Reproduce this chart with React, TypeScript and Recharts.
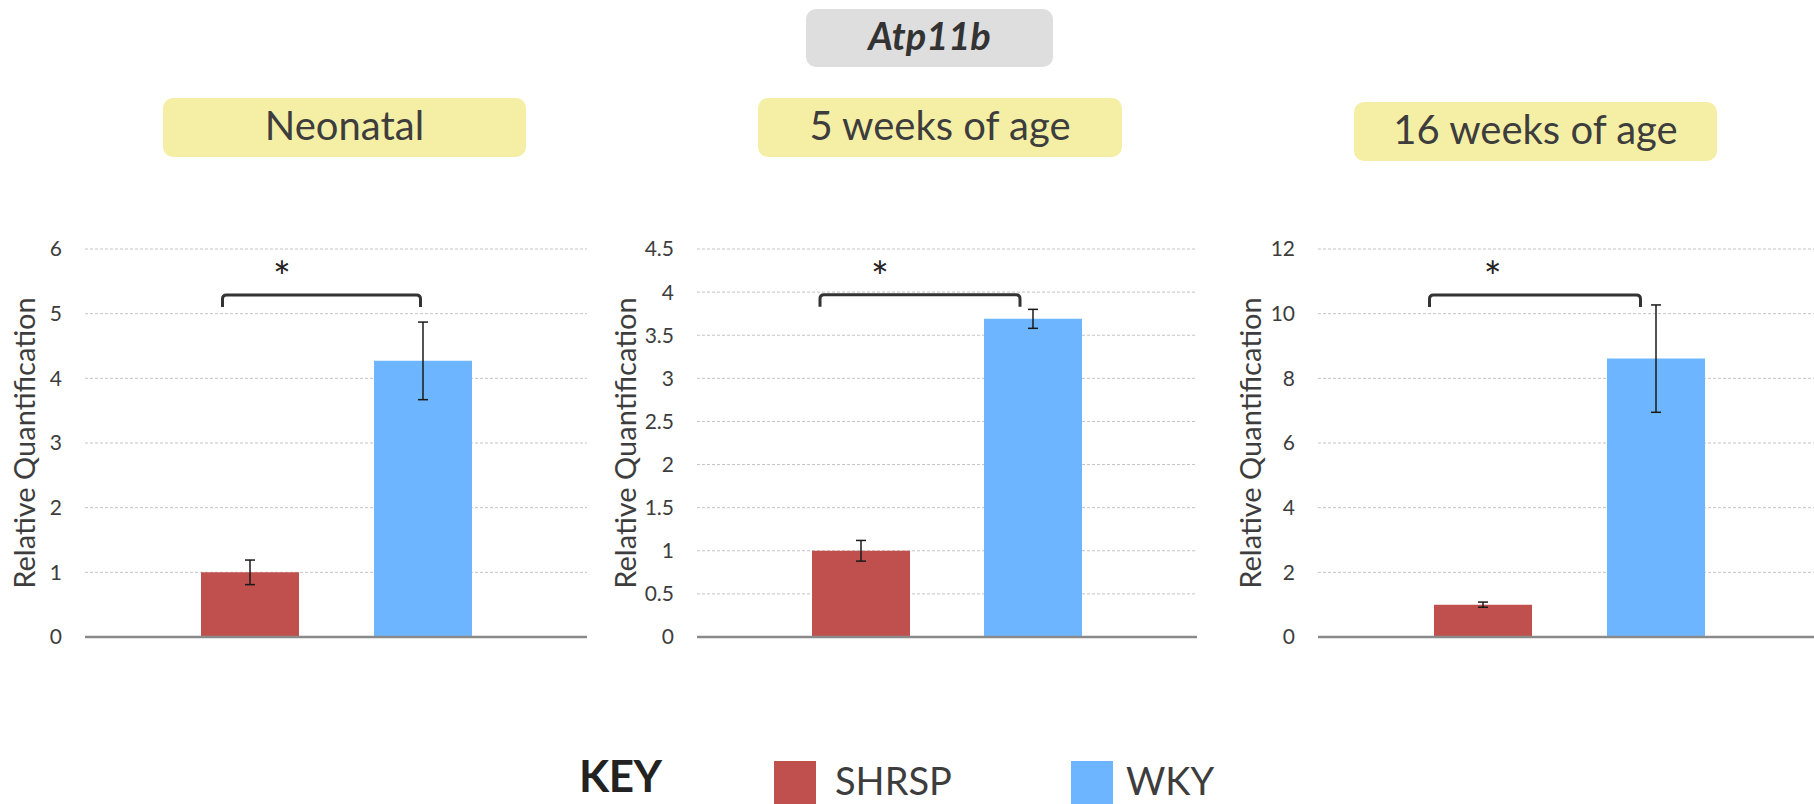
import React from "react";
import { BarChart, Bar, Cell, XAxis, YAxis, CartesianGrid, ErrorBar, ReferenceLine } from "recharts";

const groups = ["SHRSP", "WKY"];
const groupColors = ["#c0504d", "#6db6ff"];

const neonatalValues = [1.0, 4.27];
const neonatalErrors = [0.19, 0.6];
const week5Values = [1.0, 3.69];
const week5Errors = [0.12, 0.11];
const week16Values = [1.0, 8.61];
const week16Errors = [0.08, 1.66];

const neonatalTicks = [0, 1, 2, 3, 4, 5, 6];
const week5Ticks = [0, 0.5, 1, 1.5, 2, 2.5, 3, 3.5, 4, 4.5];
const week16Ticks = [0, 2, 4, 6, 8, 10, 12];

const panelTitles = ["Neonatal", "5 weeks of age", "16 weeks of age"];
// significance bracket height per panel, in axis units
const bracketLevels = [5.29, 3.97, 10.58];

const gene = "Atp11b";
const yTitle = "Relative Quantification";
const font = "Lato, 'Open Sans', sans-serif";
const ink = "#3d3d3d";

type Panel = {
  values: number[];
  errors: number[];
  ticks: number[];
  bracket: number;
  left: number;
  width: number;
  axisWidth: number;
  titleOffset: number;
  hook: [number, number];
};

const panels: Panel[] = [
  { values: neonatalValues, errors: neonatalErrors, ticks: neonatalTicks, bracket: bracketLevels[0],
    left: 0, width: 600, axisWidth: 85, titleOffset: 25, hook: [-27, -2] },
  { values: week5Values, errors: week5Errors, ticks: week5Ticks, bracket: bracketLevels[1],
    left: 600, width: 610, axisWidth: 97, titleOffset: 26, hook: [-41, -13] },
  { values: week16Values, errors: week16Errors, ticks: week16Ticks, bracket: bracketLevels[2],
    left: 1215, width: 620, axisWidth: 103, titleOffset: 36, hook: [-53, -15] },
];

// bracket + asterisk between the two bars
function Bracket(props: any) {
  const { x1, x2, y1, hook } = props;
  const a = x1 + hook[0];
  const b = x2 + hook[1];
  const drop = 12;
  const r = 4;
  const d = `M${a},${y1 + drop} V${y1 + r} Q${a},${y1} ${a + r},${y1} H${b - r} Q${b},${y1} ${b},${y1 + r} V${y1 + drop}`;
  return (
    <g>
      <path d={d} fill="none" stroke="#333" strokeWidth={3} />
      <text x={a + (b - a) * 0.3} y={y1 - 3} textAnchor="middle" fontSize={42} fill="#222" fontFamily={font}>
        *
      </text>
    </g>
  );
}

function PanelChart({ p }: { p: Panel }) {
  const data = groups.map((g, i) => ({ group: g, value: p.values[i], err: p.errors[i] }));
  const top = p.ticks[p.ticks.length - 1];
  const right = Math.max(p.width - p.axisWidth - 502, 13);
  return (
    <div style={{ position: "absolute", left: p.left, top: 200 }}>
      <BarChart width={p.width} height={460} data={data} margin={{ top: 49, right, bottom: 22, left: 0 }}>
        <CartesianGrid vertical={false} stroke="#c4c4c4" strokeDasharray="3 2" />
        <XAxis
          dataKey="group"
          tick={false}
          tickLine={false}
          height={1}
          padding={{ left: 78, right: 78 }}
          axisLine={{ stroke: "#8a8a8a", strokeWidth: 2.5 }}
        />
        <YAxis
          width={p.axisWidth}
          domain={[0, top]}
          ticks={p.ticks}
          interval={0}
          axisLine={false}
          tickLine={false}
          tickSize={0}
          tickMargin={23}
          tick={{ fontSize: 21, fill: ink, fontFamily: font }}
          label={{
            value: yTitle,
            angle: -90,
            position: "insideLeft",
            offset: p.titleOffset,
            style: { textAnchor: "middle", fontSize: 29, fill: ink, fontFamily: font },
          }}
        />
        <Bar dataKey="value" barSize={98} isAnimationActive={false}>
          {data.map((d, i) => (
            <Cell key={d.group} fill={groupColors[i]} />
          ))}
          <ErrorBar dataKey="err" width={5} stroke="#1a1a1a" strokeWidth={1.5} direction="y" isAnimationActive={false} />
        </Bar>
        <ReferenceLine
          ifOverflow="visible"
          segment={[{ x: groups[0], y: p.bracket }, { x: groups[1], y: p.bracket }]}
          shape={(sp: any) => <Bracket {...sp} hook={p.hook} />}
        />
      </BarChart>
    </div>
  );
}

const titleBoxes = [
  { left: 163, top: 98, width: 363, height: 59 },
  { left: 758, top: 98, width: 364, height: 59 },
  { left: 1354, top: 102, width: 363, height: 59 },
];

function Box({ left, top, width, height, bg, children, style }: any) {
  return (
    <div
      style={{
        position: "absolute", left, top, width, height, background: bg, borderRadius: 10,
        display: "flex", alignItems: "center", justifyContent: "center", color: ink,
        fontFamily: font, boxSizing: "border-box", paddingBottom: 6, ...style,
      }}
    >
      {children}
    </div>
  );
}

export default function App() {
  return (
    <div style={{ position: "fixed", left: 0, top: 0, width: 1814, height: 804, overflow: "hidden", background: "#fff" }}>
      <Box left={806} top={9} width={247} height={58} bg="#dedede" style={{ fontSize: 38, fontWeight: 700, fontStyle: "italic", color: "#333" }}>
        {gene}
      </Box>
      {panelTitles.map((t, i) => (
        <Box key={t} {...titleBoxes[i]} bg="#f5efa5" style={{ fontSize: 40 }}>
          {t}
        </Box>
      ))}
      {panels.map((p, i) => (
        <PanelChart key={i} p={p} />
      ))}
      {/* key */}
      <div style={{ position: "absolute", left: 579, top: 757, fontFamily: font, fontSize: 44, fontWeight: 700, lineHeight: 0.85, color: "#222", letterSpacing: -0.5 }}>
        KEY
      </div>
      {groups.map((g, i) => (
        <React.Fragment key={g}>
          <div style={{ position: "absolute", left: i === 0 ? 774 : 1071, top: 761, width: 42, height: 43, background: groupColors[i] }} />
          <div style={{ position: "absolute", left: i === 0 ? 835 : 1126, top: 763, fontFamily: font, fontSize: 38, lineHeight: 0.9, color: ink }}>
            {g}
          </div>
        </React.Fragment>
      ))}
    </div>
  );
}
